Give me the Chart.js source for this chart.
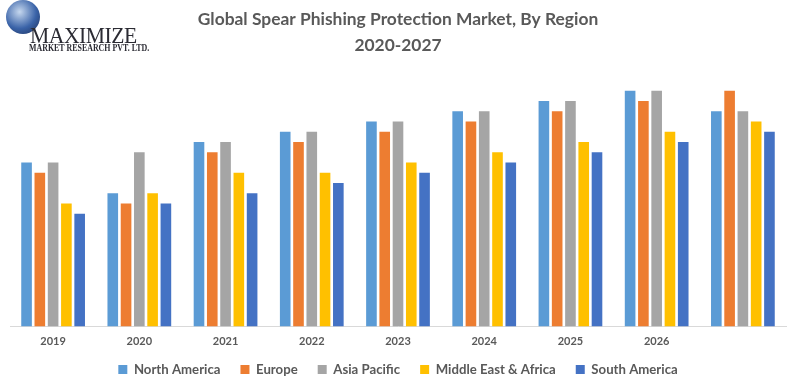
<!DOCTYPE html>
<html>
<head>
<meta charset="utf-8">
<script src="https://cdn.jsdelivr.net/npm/chart.js@4/dist/chart.umd.min.js"></script>
<style>
  html, body { margin: 0; padding: 0; background: #fff; }
  #wrap { position: relative; width: 792px; height: 390px; }
  #logo { position: absolute; left: 0; top: 0; width: 170px; height: 56px; font-family: "Liberation Serif", serif; color: #2b2b33; }
  #globe { position: absolute; left: 6px; top: 0; width: 34px; height: 34px; border-radius: 50%;
           background: radial-gradient(circle at 40% 35%, #c5d7ee, #3a63a8 55%, #1b2c55); }
  #logo .big { position: absolute; left: 30px; top: 22px; font-size: 24px; letter-spacing: -0.5px; transform: scaleX(0.9); transform-origin: left; }
  #logo .small { position: absolute; left: 29px; top: 41px; font-size: 11px; font-weight: bold; white-space: nowrap; transform: scaleX(0.72); transform-origin: left; }
</style>
</head>
<body>
<div id="wrap">
  <canvas id="barChart" width="792" height="390"></canvas>
  <div id="logo">
    <div id="globe"></div>
    <div class="big">MAXIMIZE</div>
    <div class="small">MARKET RESEARCH PVT. LTD.</div>
  </div>
</div>
<script>
// categories (last group has no label in the original)
const years = ['2019', '2020', '2021', '2022', '2023', '2024', '2025', '2026', ''];

// relative values
const northAmerica = [16, 13, 18, 19, 20, 21, 22, 23, 21];
const europe       = [15, 12, 17, 18, 19, 20, 21, 22, 23];
const asiaPacific  = [16, 17, 18, 19, 20, 21, 22, 23, 21];
const mea          = [12, 13, 15, 15, 16, 17, 18, 19, 20];
const southAmerica = [11, 12, 13, 14, 15, 16, 17, 18, 19];

const txt = '#595959';

// legend keeps 20px between items but sits closer to the axis labels
const LEGEND_SHIFT = 13;
const tightLegend = {
  id: 'tightLegend',
  beforeLayout(chart) {
    const lg = chart.legend;
    if (!lg || lg._tight) return;
    lg._tight = true;
    const fit = lg.fit;
    lg.fit = function () { fit.call(this); this.height -= LEGEND_SHIFT; };
    const draw = lg.draw;
    lg.draw = function () {
      this.top -= LEGEND_SHIFT;
      draw.call(this);
      this.top += LEGEND_SHIFT;
    };
  }
};

const ctx = document.getElementById('barChart').getContext('2d');
new Chart(ctx, {
  type: 'bar',
  data: {
    labels: years,
    datasets: [
      { label: 'North America', data: northAmerica, backgroundColor: '#5b9bd5' },
      { label: 'Europe', data: europe, backgroundColor: '#ed7d31' },
      { label: 'Asia Pacific', data: asiaPacific, backgroundColor: '#a5a5a5' },
      { label: 'Middle East & Africa', data: mea, backgroundColor: '#ffc000' },
      { label: 'South America', data: southAmerica, backgroundColor: '#4472c4' }
    ]
  },
  options: {
    responsive: false,
    animation: false,
    layout: { padding: { left: 10, right: 6, top: 6, bottom: 4 } },
    datasets: { bar: { categoryPercentage: 0.77, barPercentage: 0.8 } },
    plugins: {
      title: {
        display: true,
        text: ['Global Spear Phishing Protection Market, By Region', '2020-2027'],
        color: txt,
        font: { family: 'Lato', size: 17.4, weight: 'bold', lineHeight: 1.5 },
        padding: { top: 0, bottom: 12 }
      },
      legend: {
        position: 'bottom',
        labels: {
          boxWidth: 9, boxHeight: 9, color: txt, padding: 20,
          font: { family: 'Lato', size: 13.2, weight: 'bold' }
        }
      },
      tooltip: { enabled: false }
    },
    scales: {
      x: {
        grid: { display: false, drawTicks: false },
        border: { color: '#d9d9d9', width: 1 },
        ticks: { color: txt, padding: 8, font: { family: 'Lato', size: 11, weight: 'bold' } }
      },
      y: { display: false, min: 0, max: 25 }
    }
  },
  plugins: [tightLegend]
});
</script>
</body>
</html>
